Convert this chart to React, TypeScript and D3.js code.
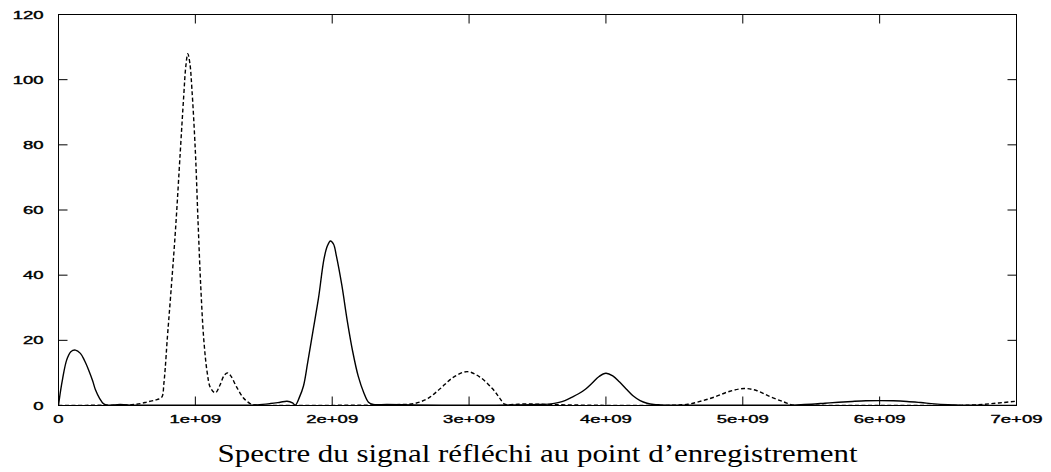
import * as d3 from "d3";

// frequencies in units of 1e9 Hz, amplitudes
const solidFreq = [
  0, 0.015, 0.03, 0.06, 0.09, 0.124, 0.16, 0.19, 0.22, 0.25, 0.27, 0.3, 0.33, 0.36, 0.45, 0.55,
  0.7, 0.9, 1.1, 1.3, 1.45, 1.55, 1.62, 1.67, 1.71, 1.73, 1.76, 1.79, 1.82, 1.86, 1.9, 1.94, 1.965,
  1.987, 2.01, 2.03, 2.07, 2.11, 2.15, 2.19, 2.23, 2.265, 2.3, 2.4, 2.6, 2.9, 3.2, 3.5, 3.6, 3.65,
  3.7, 3.75, 3.8, 3.85, 3.9, 3.95, 4.0, 4.05, 4.1, 4.15, 4.2, 4.25, 4.3, 4.35, 4.4, 4.5, 4.7, 5.0,
  5.3, 5.4, 5.5, 5.6, 5.7, 5.8, 5.9, 6.0, 6.1, 6.2, 6.3, 6.4, 6.5, 6.6, 6.8, 7.0,
];
const solidAmp = [
  0, 4.5, 8.2, 14, 16.5, 17, 16, 13.8, 10.9, 7.5, 4.8, 2.2, 0.5, 0.1, 0.3, 0.1,
  0.1, 0.1, 0.1, 0.1, 0.2, 0.6, 1.0, 1.3, 0.8, 0.1, 2.5, 6, 13, 23, 33, 45, 49,
  50.5, 49.5, 46, 37, 26, 16.5, 9, 4, 1, 0.3, 0.3, 0.2, 0.1, 0.1, 0.3, 0.5, 0.9,
  1.5, 2.5, 3.6, 5, 6.9, 8.9, 9.9, 9.1, 7.2, 5, 2.9, 1.5, 0.7, 0.3, 0.2, 0.1, 0.1, 0.1,
  0.1, 0.2, 0.4, 0.7, 1.0, 1.25, 1.45, 1.5, 1.45, 1.25, 0.9, 0.5, 0.25, 0.1, 0.05, 0.05,
];

const dashedFreq = [
  0, 0.2, 0.4, 0.5, 0.55, 0.6, 0.65, 0.71, 0.735, 0.757, 0.77, 0.78, 0.794, 0.82, 0.855, 0.89,
  0.915, 0.93, 0.945, 0.96, 0.975, 1.0, 1.02, 1.04, 1.062, 1.087, 1.11, 1.147, 1.18, 1.21, 1.235,
  1.26, 1.3, 1.35, 1.4, 1.45, 1.6, 1.8, 2.0, 2.2, 2.4, 2.5, 2.6, 2.7, 2.79, 2.88, 2.986, 3.08,
  3.17, 3.22, 3.26, 3.32, 3.4, 3.5, 3.7, 4.0, 4.3, 4.5, 4.6, 4.7, 4.8, 4.9, 5.01, 5.1, 5.2, 5.3,
  5.37, 5.45, 5.6, 6.0, 6.4, 6.6, 6.7, 6.8, 6.9, 7.0,
];
const dashedAmp = [
  0, 0.05, 0.1, 0.15, 0.3, 0.6, 1.1, 1.7, 2.0, 2.7, 6.8, 11.5, 20, 34, 54, 78,
  95, 104, 108, 105, 97, 78, 56, 36, 20, 10, 5.5, 3.9, 6.3, 9.2, 10,
  9.0, 5.8, 2.4, 0.6, 0.1, 0.05, 0.05, 0.05, 0.1, 0.2, 0.3, 0.6, 2.2, 5.2, 8.5, 10.4, 8.7,
  5.2, 2.5, 0.4, 0.3, 0.5, 0.4, 0.2, 0.05, 0.05, 0.1, 0.4, 1.4, 2.7, 4.3, 5.2, 4.6, 2.7, 1.1,
  0.1, 0.1, 0.05, 0.05, 0.05, 0.05, 0.2, 0.5, 0.9, 1.3,
];

const xTicks = [0, 1, 2, 3, 4, 5, 6, 7];
const xTickLabels = ["0", "1e+09", "2e+09", "3e+09", "4e+09", "5e+09", "6e+09", "7e+09"];
const yTicks = [0, 20, 40, 60, 80, 100, 120];

const title = "Spectre du signal réfléchi au point d’enregistrement";

const W = 1051;
const H = 472;
const plot = { left: 58.5, right: 1016.5, top: 14.5, bottom: 405.5 };
const tickLen = 9;

export default function App() {
  const x = d3.scaleLinear().domain([0, 7]).range([plot.left, plot.right]);
  const y = d3.scaleLinear().domain([0, 120]).range([plot.bottom, plot.top]);

  const line = d3
    .line<[number, number]>()
    .x((d) => x(d[0]))
    .y((d) => y(d[1]))
    .curve(d3.curveCatmullRom.alpha(0.5));

  const solid = solidFreq.map((f, i) => [f, solidAmp[i]] as [number, number]);
  const dashed = dashedFreq.map((f, i) => [f, dashedAmp[i]] as [number, number]);

  const labelFont = "'Liberation Sans', Arial, sans-serif";

  return (
    <svg
      width={W}
      height={H}
      style={{ position: "absolute", left: 0, top: 0, background: "#fff" }}
    >
      <defs>
        <clipPath id="plotClip">
          <rect x={plot.left} y={plot.top - 1} width={plot.right - plot.left} height={plot.bottom - plot.top + 1} />
        </clipPath>
      </defs>

      {/* curves */}
      <g clipPath="url(#plotClip)" fill="none" stroke="#000" strokeWidth={1.4}>
        <path d={line(dashed) || ""} strokeDasharray="4,2.5" />
        <path d={line(solid) || ""} />
      </g>

      {/* frame */}
      <rect
        x={plot.left}
        y={plot.top}
        width={plot.right - plot.left}
        height={plot.bottom - plot.top}
        fill="none"
        stroke="#000"
        strokeWidth={1}
      />

      {/* x ticks, bottom and top */}
      {xTicks.map((t, i) => (
        <g key={"x" + t}>
          <line x1={x(t)} x2={x(t)} y1={plot.bottom} y2={plot.bottom - tickLen} stroke="#000" />
          <line x1={x(t)} x2={x(t)} y1={plot.top} y2={plot.top + tickLen} stroke="#000" />
          <text
            transform={`translate(${x(t)},${plot.bottom + 17}) scale(1.85,1)`}
            textAnchor="middle"
            fontFamily={labelFont}
            fontSize={10}
            fill="#000"
            stroke="#000"
            strokeWidth={0.35}
          >
            {xTickLabels[i]}
          </text>
        </g>
      ))}

      {/* y ticks, left and right */}
      {yTicks.map((t) => (
        <g key={"y" + t}>
          <line x1={plot.left} x2={plot.left + tickLen} y1={y(t)} y2={y(t)} stroke="#000" />
          <line x1={plot.right} x2={plot.right - tickLen} y1={y(t)} y2={y(t)} stroke="#000" />
          <text
            transform={`translate(${plot.left - 15},${y(t) + 4}) scale(1.85,1)`}
            textAnchor="end"
            fontFamily={labelFont}
            fontSize={10}
            fill="#000"
            stroke="#000"
            strokeWidth={0.35}
          >
            {t}
          </text>
        </g>
      ))}

      <text
        x={(plot.left + plot.right) / 2}
        y={462}
        textAnchor="middle"
        fontFamily="'Liberation Serif', 'DejaVu Serif', serif"
        fontSize={25}
        textLength={640}
        lengthAdjust="spacingAndGlyphs"
        fill="#000"
      >
        {title}
      </text>
    </svg>
  );
}
